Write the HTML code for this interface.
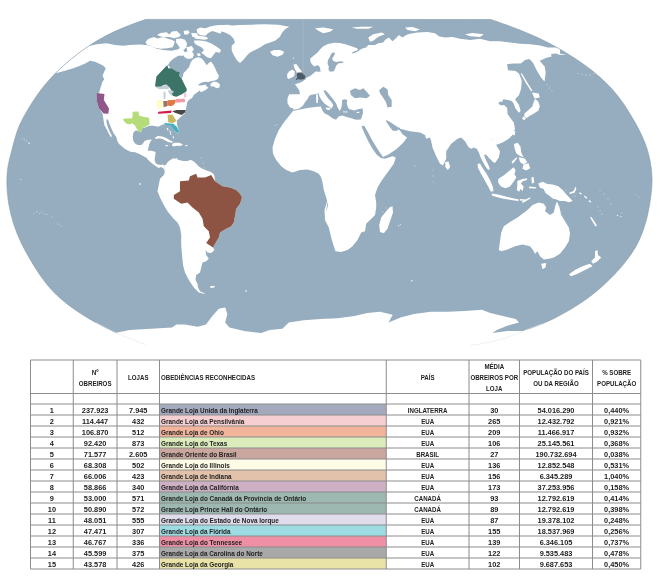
<!DOCTYPE html>
<html lang="pt"><head><meta charset="utf-8"><title>Mapa</title>
<style>html,body{margin:0;padding:0;background:#fff}svg{display:block}</style></head>
<body>
<svg width="660" height="584" viewBox="0 0 660 584">
<rect width="660" height="584" fill="#fff"/>
<defs><clipPath id="clip"><path d="M491.0 19.5 L493.4 20.4 L495.8 21.2 L498.3 22.1 L500.7 22.9 L503.1 23.8 L505.5 24.6 L507.9 25.5 L510.3 26.4 L512.7 27.3 L515.1 28.2 L517.5 29.1 L519.9 30.1 L522.3 31.0 L524.6 32.0 L527.0 33.0 L529.4 33.9 L531.7 35.0 L534.1 36.0 L536.4 37.0 L538.8 38.1 L541.1 39.2 L543.4 40.3 L545.7 41.5 L548.0 42.6 L550.2 43.8 L552.5 45.0 L554.7 46.2 L557.0 47.5 L559.2 48.8 L561.4 50.0 L563.6 51.3 L565.8 52.7 L568.0 54.0 L570.2 55.4 L572.4 56.7 L574.5 58.1 L576.7 59.5 L578.8 61.0 L580.9 62.4 L583.0 63.9 L585.1 65.4 L587.2 66.9 L589.2 68.4 L591.3 70.0 L593.3 71.6 L595.3 73.2 L597.2 74.9 L599.2 76.5 L601.1 78.3 L603.0 80.0 L604.8 81.8 L606.7 83.6 L608.5 85.4 L610.3 87.2 L612.0 89.1 L613.7 91.0 L615.4 93.0 L617.0 95.0 L618.6 97.0 L620.1 99.0 L621.6 101.1 L623.1 103.2 L624.6 105.3 L626.0 107.4 L627.4 109.6 L628.7 111.8 L630.1 114.0 L631.4 116.2 L632.7 118.4 L634.0 120.6 L635.3 122.8 L636.5 125.1 L637.7 127.3 L638.9 129.6 L640.1 131.9 L641.2 134.2 L642.3 136.5 L643.3 138.9 L644.3 141.2 L645.2 143.6 L646.1 146.1 L646.9 148.5 L647.6 150.9 L648.3 153.4 L649.0 155.9 L649.5 158.4 L650.1 160.9 L650.5 163.5 L650.9 166.0 L651.3 168.6 L651.6 171.1 L651.8 173.7 L651.9 176.2 L652.0 178.8 L652.0 181.4 L651.9 183.9 L651.8 186.5 L651.6 189.0 L651.4 191.6 L651.1 194.1 L650.8 196.7 L650.4 199.2 L650.0 201.8 L649.6 204.3 L649.2 206.8 L648.7 209.3 L648.2 211.9 L647.7 214.4 L647.1 216.9 L646.5 219.4 L645.8 221.8 L645.1 224.3 L644.3 226.8 L643.5 229.2 L642.7 231.6 L641.8 234.0 L640.8 236.4 L639.8 238.8 L638.7 241.1 L637.5 243.4 L636.3 245.6 L635.1 247.9 L633.7 250.1 L632.4 252.2 L630.9 254.4 L629.5 256.5 L627.9 258.5 L626.4 260.6 L624.8 262.6 L623.2 264.6 L621.5 266.6 L619.9 268.5 L618.1 270.4 L616.4 272.3 L614.7 274.2 L612.9 276.0 L611.1 277.8 L609.3 279.6 L607.4 281.4 L605.5 283.2 L603.7 284.9 L601.8 286.7 L599.8 288.4 L597.9 290.1 L595.9 291.7 L594.0 293.3 L592.0 294.9 L589.9 296.5 L587.9 298.0 L585.8 299.5 L583.7 301.0 L581.6 302.4 L579.4 303.8 L577.3 305.2 L575.1 306.6 L572.9 307.9 L570.7 309.2 L568.5 310.5 L566.3 311.8 L564.0 313.1 L561.8 314.3 L559.5 315.5 L557.2 316.7 L555.0 317.9 L552.7 319.0 L550.4 320.2 L548.0 321.2 L545.7 322.3 L543.3 323.3 L541.0 324.3 L538.6 325.2 L536.2 326.2 L533.8 327.1 L531.4 328.0 L529.0 328.9 L526.6 329.8 L524.2 330.8 L521.8 331.7 L519.5 332.6 L517.1 333.6 L514.7 334.5 L512.3 335.4 L509.9 336.3 L507.4 337.2 L505.0 338.0 L502.6 338.8 L500.1 339.6 L497.7 340.3 L495.2 340.9 L492.7 341.6 L490.2 342.1 L487.7 342.6 L485.2 343.1 L482.7 343.6 L480.2 344.0 L477.6 344.4 L475.1 344.8 L472.5 345.1 L470.0 345.5 L400.0 349.0 L250.0 349.0 L190.0 348.5 L145.6 344.6 L143.4 343.8 L141.3 343.0 L139.2 342.2 L137.0 341.4 L134.9 340.6 L132.7 339.7 L130.6 338.9 L128.4 338.1 L126.3 337.2 L124.2 336.3 L122.1 335.4 L120.0 334.5 L117.9 333.6 L115.8 332.7 L113.7 331.7 L111.6 330.7 L109.6 329.7 L107.5 328.7 L105.5 327.7 L103.4 326.6 L101.4 325.6 L99.4 324.5 L97.4 323.4 L95.3 322.3 L93.3 321.2 L91.4 320.0 L89.4 318.9 L87.4 317.7 L85.4 316.5 L83.5 315.3 L81.5 314.1 L79.6 312.8 L77.7 311.6 L75.8 310.3 L73.9 309.0 L72.0 307.6 L70.2 306.3 L68.3 304.9 L66.5 303.5 L64.7 302.1 L62.9 300.6 L61.2 299.1 L59.5 297.6 L57.8 296.1 L56.1 294.5 L54.5 292.9 L52.9 291.2 L51.3 289.5 L49.8 287.8 L48.3 286.1 L46.9 284.3 L45.4 282.5 L44.1 280.7 L42.7 278.8 L41.4 276.9 L40.0 275.1 L38.7 273.2 L37.5 271.2 L36.2 269.3 L35.0 267.4 L33.8 265.4 L32.5 263.5 L31.4 261.5 L30.2 259.5 L29.0 257.6 L27.9 255.6 L26.8 253.6 L25.7 251.6 L24.6 249.5 L23.5 247.5 L22.5 245.4 L21.5 243.4 L20.5 241.3 L19.6 239.2 L18.7 237.1 L17.8 235.0 L16.9 232.9 L16.1 230.7 L15.3 228.6 L14.5 226.4 L13.8 224.2 L13.1 222.0 L12.5 219.8 L11.8 217.6 L11.2 215.4 L10.7 213.2 L10.2 210.9 L9.7 208.7 L9.3 206.4 L8.8 204.2 L8.5 201.9 L8.1 199.6 L7.9 197.4 L7.6 195.1 L7.4 192.8 L7.2 190.5 L7.1 188.2 L7.0 185.9 L6.9 183.6 L6.9 181.3 L6.9 179.0 L7.0 176.7 L7.1 174.4 L7.3 172.2 L7.6 169.9 L7.9 167.6 L8.2 165.3 L8.7 163.1 L9.1 160.9 L9.7 158.6 L10.2 156.4 L10.8 154.2 L11.4 151.9 L12.0 149.7 L12.6 147.5 L13.1 145.3 L13.7 143.0 L14.3 140.8 L14.9 138.6 L15.6 136.4 L16.2 134.2 L17.0 132.0 L17.7 129.9 L18.5 127.7 L19.4 125.6 L20.3 123.5 L21.3 121.5 L22.4 119.4 L23.4 117.4 L24.5 115.4 L25.6 113.4 L26.8 111.4 L28.0 109.4 L29.2 107.4 L30.4 105.4 L31.6 103.5 L32.8 101.6 L34.1 99.7 L35.3 97.7 L36.6 95.9 L38.0 94.0 L39.3 92.1 L40.7 90.3 L42.1 88.5 L43.5 86.7 L44.9 84.9 L46.4 83.1 L47.9 81.4 L49.4 79.6 L51.0 77.9 L52.5 76.3 L54.1 74.6 L55.7 73.0 L57.4 71.4 L59.0 69.8 L60.7 68.2 L62.4 66.7 L64.1 65.1 L65.8 63.6 L67.6 62.1 L69.3 60.7 L71.1 59.2 L72.9 57.7 L74.7 56.3 L76.5 54.9 L78.3 53.5 L80.1 52.1 L82.0 50.8 L83.8 49.4 L85.7 48.1 L87.6 46.8 L89.5 45.5 L91.4 44.3 L93.4 43.0 L95.3 41.8 L97.3 40.6 L99.3 39.5 L101.3 38.3 L103.3 37.2 L105.3 36.1 L107.3 35.1 L109.4 34.0 L111.4 33.0 L113.5 32.0 L115.6 31.1 L117.7 30.1 L119.8 29.2 L121.9 28.3 L124.0 27.5 L126.1 26.6 L128.3 25.8 L130.4 24.9 L132.6 24.1 L134.7 23.3 L136.9 22.5 L139.0 21.7 L141.2 21.0 L143.3 20.2 L145.5 19.4Z"/></clipPath></defs>
<path d="M491.0 19.5 L493.4 20.4 L495.8 21.2 L498.3 22.1 L500.7 22.9 L503.1 23.8 L505.5 24.6 L507.9 25.5 L510.3 26.4 L512.7 27.3 L515.1 28.2 L517.5 29.1 L519.9 30.1 L522.3 31.0 L524.6 32.0 L527.0 33.0 L529.4 33.9 L531.7 35.0 L534.1 36.0 L536.4 37.0 L538.8 38.1 L541.1 39.2 L543.4 40.3 L545.7 41.5 L548.0 42.6 L550.2 43.8 L552.5 45.0 L554.7 46.2 L557.0 47.5 L559.2 48.8 L561.4 50.0 L563.6 51.3 L565.8 52.7 L568.0 54.0 L570.2 55.4 L572.4 56.7 L574.5 58.1 L576.7 59.5 L578.8 61.0 L580.9 62.4 L583.0 63.9 L585.1 65.4 L587.2 66.9 L589.2 68.4 L591.3 70.0 L593.3 71.6 L595.3 73.2 L597.2 74.9 L599.2 76.5 L601.1 78.3 L603.0 80.0 L604.8 81.8 L606.7 83.6 L608.5 85.4 L610.3 87.2 L612.0 89.1 L613.7 91.0 L615.4 93.0 L617.0 95.0 L618.6 97.0 L620.1 99.0 L621.6 101.1 L623.1 103.2 L624.6 105.3 L626.0 107.4 L627.4 109.6 L628.7 111.8 L630.1 114.0 L631.4 116.2 L632.7 118.4 L634.0 120.6 L635.3 122.8 L636.5 125.1 L637.7 127.3 L638.9 129.6 L640.1 131.9 L641.2 134.2 L642.3 136.5 L643.3 138.9 L644.3 141.2 L645.2 143.6 L646.1 146.1 L646.9 148.5 L647.6 150.9 L648.3 153.4 L649.0 155.9 L649.5 158.4 L650.1 160.9 L650.5 163.5 L650.9 166.0 L651.3 168.6 L651.6 171.1 L651.8 173.7 L651.9 176.2 L652.0 178.8 L652.0 181.4 L651.9 183.9 L651.8 186.5 L651.6 189.0 L651.4 191.6 L651.1 194.1 L650.8 196.7 L650.4 199.2 L650.0 201.8 L649.6 204.3 L649.2 206.8 L648.7 209.3 L648.2 211.9 L647.7 214.4 L647.1 216.9 L646.5 219.4 L645.8 221.8 L645.1 224.3 L644.3 226.8 L643.5 229.2 L642.7 231.6 L641.8 234.0 L640.8 236.4 L639.8 238.8 L638.7 241.1 L637.5 243.4 L636.3 245.6 L635.1 247.9 L633.7 250.1 L632.4 252.2 L630.9 254.4 L629.5 256.5 L627.9 258.5 L626.4 260.6 L624.8 262.6 L623.2 264.6 L621.5 266.6 L619.9 268.5 L618.1 270.4 L616.4 272.3 L614.7 274.2 L612.9 276.0 L611.1 277.8 L609.3 279.6 L607.4 281.4 L605.5 283.2 L603.7 284.9 L601.8 286.7 L599.8 288.4 L597.9 290.1 L595.9 291.7 L594.0 293.3 L592.0 294.9 L589.9 296.5 L587.9 298.0 L585.8 299.5 L583.7 301.0 L581.6 302.4 L579.4 303.8 L577.3 305.2 L575.1 306.6 L572.9 307.9 L570.7 309.2 L568.5 310.5 L566.3 311.8 L564.0 313.1 L561.8 314.3 L559.5 315.5 L557.2 316.7 L555.0 317.9 L552.7 319.0 L550.4 320.2 L548.0 321.2 L545.7 322.3 L543.3 323.3 L541.0 324.3 L538.6 325.2 L536.2 326.2 L533.8 327.1 L531.4 328.0 L529.0 328.9 L526.6 329.8 L524.2 330.8 L521.8 331.7 L519.5 332.6 L517.1 333.6 L514.7 334.5 L512.3 335.4 L509.9 336.3 L507.4 337.2 L505.0 338.0 L502.6 338.8 L500.1 339.6 L497.7 340.3 L495.2 340.9 L492.7 341.6 L490.2 342.1 L487.7 342.6 L485.2 343.1 L482.7 343.6 L480.2 344.0 L477.6 344.4 L475.1 344.8 L472.5 345.1 L470.0 345.5 L400.0 349.0 L250.0 349.0 L190.0 348.5 L145.6 344.6 L143.4 343.8 L141.3 343.0 L139.2 342.2 L137.0 341.4 L134.9 340.6 L132.7 339.7 L130.6 338.9 L128.4 338.1 L126.3 337.2 L124.2 336.3 L122.1 335.4 L120.0 334.5 L117.9 333.6 L115.8 332.7 L113.7 331.7 L111.6 330.7 L109.6 329.7 L107.5 328.7 L105.5 327.7 L103.4 326.6 L101.4 325.6 L99.4 324.5 L97.4 323.4 L95.3 322.3 L93.3 321.2 L91.4 320.0 L89.4 318.9 L87.4 317.7 L85.4 316.5 L83.5 315.3 L81.5 314.1 L79.6 312.8 L77.7 311.6 L75.8 310.3 L73.9 309.0 L72.0 307.6 L70.2 306.3 L68.3 304.9 L66.5 303.5 L64.7 302.1 L62.9 300.6 L61.2 299.1 L59.5 297.6 L57.8 296.1 L56.1 294.5 L54.5 292.9 L52.9 291.2 L51.3 289.5 L49.8 287.8 L48.3 286.1 L46.9 284.3 L45.4 282.5 L44.1 280.7 L42.7 278.8 L41.4 276.9 L40.0 275.1 L38.7 273.2 L37.5 271.2 L36.2 269.3 L35.0 267.4 L33.8 265.4 L32.5 263.5 L31.4 261.5 L30.2 259.5 L29.0 257.6 L27.9 255.6 L26.8 253.6 L25.7 251.6 L24.6 249.5 L23.5 247.5 L22.5 245.4 L21.5 243.4 L20.5 241.3 L19.6 239.2 L18.7 237.1 L17.8 235.0 L16.9 232.9 L16.1 230.7 L15.3 228.6 L14.5 226.4 L13.8 224.2 L13.1 222.0 L12.5 219.8 L11.8 217.6 L11.2 215.4 L10.7 213.2 L10.2 210.9 L9.7 208.7 L9.3 206.4 L8.8 204.2 L8.5 201.9 L8.1 199.6 L7.9 197.4 L7.6 195.1 L7.4 192.8 L7.2 190.5 L7.1 188.2 L7.0 185.9 L6.9 183.6 L6.9 181.3 L6.9 179.0 L7.0 176.7 L7.1 174.4 L7.3 172.2 L7.6 169.9 L7.9 167.6 L8.2 165.3 L8.7 163.1 L9.1 160.9 L9.7 158.6 L10.2 156.4 L10.8 154.2 L11.4 151.9 L12.0 149.7 L12.6 147.5 L13.1 145.3 L13.7 143.0 L14.3 140.8 L14.9 138.6 L15.6 136.4 L16.2 134.2 L17.0 132.0 L17.7 129.9 L18.5 127.7 L19.4 125.6 L20.3 123.5 L21.3 121.5 L22.4 119.4 L23.4 117.4 L24.5 115.4 L25.6 113.4 L26.8 111.4 L28.0 109.4 L29.2 107.4 L30.4 105.4 L31.6 103.5 L32.8 101.6 L34.1 99.7 L35.3 97.7 L36.6 95.9 L38.0 94.0 L39.3 92.1 L40.7 90.3 L42.1 88.5 L43.5 86.7 L44.9 84.9 L46.4 83.1 L47.9 81.4 L49.4 79.6 L51.0 77.9 L52.5 76.3 L54.1 74.6 L55.7 73.0 L57.4 71.4 L59.0 69.8 L60.7 68.2 L62.4 66.7 L64.1 65.1 L65.8 63.6 L67.6 62.1 L69.3 60.7 L71.1 59.2 L72.9 57.7 L74.7 56.3 L76.5 54.9 L78.3 53.5 L80.1 52.1 L82.0 50.8 L83.8 49.4 L85.7 48.1 L87.6 46.8 L89.5 45.5 L91.4 44.3 L93.4 43.0 L95.3 41.8 L97.3 40.6 L99.3 39.5 L101.3 38.3 L103.3 37.2 L105.3 36.1 L107.3 35.1 L109.4 34.0 L111.4 33.0 L113.5 32.0 L115.6 31.1 L117.7 30.1 L119.8 29.2 L121.9 28.3 L124.0 27.5 L126.1 26.6 L128.3 25.8 L130.4 24.9 L132.6 24.1 L134.7 23.3 L136.9 22.5 L139.0 21.7 L141.2 21.0 L143.3 20.2 L145.5 19.4Z" fill="#96adbf"/>
<g clip-path="url(#clip)">
<path d="M56.7 73.0 L50.0 71.7 L85.0 41.7 L90.0 45.8 L96.7 44.2 L106.7 43.3 L115.0 45.0 L123.3 45.8 L130.0 45.0 L140.0 44.5 L150.0 45.5 L140.0 45.5 L146.7 45.0 L151.7 46.2 L156.7 48.7 L163.3 50.0 L171.7 50.8 L178.3 49.2 L180.8 47.0 L183.3 50.0 L185.8 53.7 L183.3 55.8 L178.3 55.8 L173.3 58.7 L170.0 61.7 L168.0 65.0 L170.8 68.7 L177.5 72.5 L180.0 74.7 L179.4 72.4 L180.0 76.1 L181.8 78.5 L183.0 76.1 L183.6 73.0 L186.1 70.6 L189.1 67.0 L190.3 63.3 L192.1 60.3 L195.2 57.9 L198.8 57.3 L201.8 58.5 L204.2 61.5 L206.7 65.2 L208.5 63.3 L210.9 61.5 L213.3 64.5 L215.2 68.2 L217.0 72.4 L218.8 75.5 L218.2 78.5 L215.8 80.3 L212.1 80.9 L208.5 82.1 L204.8 81.8 L201.2 82.7 L197.6 85.2 L201.2 85.4 L205.5 84.5 L206.7 86.4 L208.5 87.8 L204.8 90.6 L200.6 92.2 L200.0 90.6 L196.4 93.0 L193.9 94.8 L192.1 97.9 L189.1 99.7 L187.3 102.1 L186.7 105.2 L186.1 108.2 L185.7 110.6 L184.8 113.6 L182.4 115.5 L180.0 117.5 L176.7 120.8 L177.5 126.7 L179.2 131.7 L177.8 133.7 L175.0 130.8 L171.7 126.3 L168.3 124.7 L163.3 124.2 L158.3 126.7 L153.3 125.8 L149.2 125.8 L145.0 127.5 L142.3 128.2 L140.9 132.3 L135.9 130.3 L133.6 132.3 L132.7 135.9 L133.2 140.5 L135.0 143.6 L137.7 145.0 L141.4 145.0 L143.2 143.2 L144.5 140.9 L147.3 140.0 L150.5 139.5 L152.1 140.0 L150.8 140.7 L149.2 144.4 L148.2 148.7 L147.7 150.8 L151.4 150.8 L155.1 151.8 L155.6 152.7 L155.1 156.1 L154.6 160.3 L155.6 163.0 L157.7 164.6 L160.9 165.1 L162.5 164.4 L164.6 165.6 L164.3 169.4 L162.5 167.8 L160.9 166.9 L158.8 168.0 L156.7 166.7 L153.5 164.6 L150.3 161.9 L147.1 158.7 L146.8 158.0 L143.2 155.9 L139.5 154.1 L135.0 152.3 L130.5 151.8 L125.9 149.5 L122.3 146.8 L119.1 144.1 L117.3 140.9 L116.4 137.3 L113.6 133.2 L111.4 128.6 L109.5 124.1 L108.2 120.0 L106.8 119.1 L106.4 121.8 L107.3 125.5 L108.6 129.1 L110.0 132.3 L111.8 135.5 L111.2 137.3 L110.5 136.8 L108.6 133.2 L106.8 129.5 L104.5 125.5 L103.6 120.5 L102.7 114.1 L99.2 108.3 L97.0 101.7 L97.0 93.7 L99.2 92.5 L100.8 86.7 L102.5 81.7 L104.2 79.2 L102.5 75.8 L104.2 71.7 L105.8 68.3 L103.3 65.8 L98.3 63.3 L95.0 61.7 L90.0 60.8 L85.8 63.3 L80.0 65.8 L73.3 68.3 L65.0 70.8Z" fill="#ffffff"/>
<path d="M145.5 41.9 L148.2 39.1 L153.6 37.1 L157.7 38.5 L163.2 37.1 L167.3 38.5 L171.4 39.8 L174.8 41.2 L174.1 43.9 L172.7 47.3 L167.3 48.3 L160.5 48.7 L155.0 47.7 L150.9 46.0 L146.8 44.6Z" fill="#ffffff"/>
<path d="M157.0 35.0 L160.5 33.0 L166.6 32.3 L169.3 34.4 L172.0 31.6 L176.8 31.0 L178.9 33.0 L180.9 35.0 L178.9 37.1 L174.1 38.2 L169.3 37.1 L164.5 37.1 L160.5 36.4Z" fill="#ffffff"/>
<path d="M183.6 31.0 L187.7 30.3 L189.8 32.3 L187.7 34.4 L184.3 34.4Z" fill="#ffffff"/>
<path d="M196.6 29.6 L200.0 27.5 L205.5 28.2 L210.9 26.2 L219.1 25.5 L227.3 24.8 L231.4 25.5 L231.4 31.0 L225.9 29.6 L221.8 31.0 L220.5 33.7 L216.4 32.3 L212.3 31.0 L208.2 33.0 L205.5 35.7 L200.0 35.0 L197.3 33.0Z" fill="#ffffff"/>
<path d="M194.5 35.7 L200.0 35.7 L206.8 37.1 L208.2 39.1 L204.1 39.8 L198.6 39.1 L194.5 38.5Z" fill="#ffffff"/>
<path d="M176.1 39.1 L180.9 38.5 L185.0 39.8 L187.0 43.2 L186.4 47.3 L183.6 50.0 L180.2 48.7 L178.2 45.3 L176.1 42.5Z" fill="#ffffff"/>
<path d="M193.9 40.5 L200.0 40.5 L205.5 41.2 L210.9 43.2 L216.4 46.6 L221.1 50.0 L219.8 52.8 L215.7 52.1 L213.6 54.8 L210.9 58.2 L207.5 57.5 L204.1 54.8 L201.4 52.8 L204.1 50.0 L201.4 47.3 L197.3 45.3 L194.5 43.2Z" fill="#ffffff"/>
<path d="M186.4 47.3 L191.8 46.0 L193.9 49.4 L191.8 52.1 L187.7 52.1Z" fill="#ffffff"/>
<path d="M183.4 52.8 L187.0 51.4 L192.5 52.1 L193.9 54.8 L192.5 58.2 L187.7 58.9 L184.3 56.9Z" fill="#ffffff"/>
<path d="M196.6 53.7 L200.0 53.2 L200.7 55.5 L198.0 56.2Z" fill="#ffffff"/>
<path d="M191.1 33.0 L197.3 33.3 L198.0 36.4 L192.5 37.1Z" fill="#ffffff"/>
<path d="M213.3 25.8 L220.0 25.0 L228.3 25.8 L240.0 25.0 L251.7 24.7 L265.0 24.2 L278.3 24.7 L289.2 26.7 L285.0 29.2 L281.7 33.3 L280.0 36.7 L275.0 40.8 L270.0 42.5 L265.0 44.2 L260.0 47.5 L255.0 50.0 L250.0 52.5 L246.7 55.8 L243.3 60.0 L240.0 63.0 L236.7 60.0 L234.2 55.8 L231.7 50.8 L231.7 45.8 L235.0 42.5 L233.3 38.3 L230.0 35.0 L225.0 32.5 L220.0 30.8 L218.3 29.2 L213.3 28.3Z" fill="#ffffff"/>
<path d="M270.0 51.7 L274.2 50.0 L280.0 50.0 L284.2 51.7 L282.5 54.7 L277.5 56.7 L272.5 55.3Z" fill="#ffffff"/>
<path d="M287.2 73.9 L289.5 71.3 L292.5 69.4 L294.4 71.3 L294.8 74.3 L293.6 76.6 L291.4 77.7 L288.3 78.9 L287.2 77.3Z" fill="#ffffff"/>
<path d="M293.6 64.5 L296.3 64.1 L298.2 66.4 L299.3 68.3 L301.2 70.5 L302.0 72.4 L303.5 74.3 L305.4 75.8 L305.4 77.7 L303.9 79.6 L300.5 79.8 L297.8 79.6 L295.2 80.4 L296.3 78.5 L297.4 77.0 L296.3 75.8 L297.0 73.6 L296.3 71.3 L294.8 69.0 L294.0 66.7Z" fill="#ffffff"/>
<path d="M302.8 19.0 L303.5 19.0 L303.5 72.4 L302.8 72.4Z" fill="#a4b8c8"/>
<path d="M297.8 72.4 L302.0 72.4 L303.5 74.3 L305.4 75.8 L305.4 77.7 L303.9 79.6 L300.5 79.8 L297.8 79.6 L295.2 80.4 L296.3 78.5 L297.4 77.0 L296.3 75.8 L297.0 73.6Z" fill="#4a5c6a"/>
<path d="M315.0 28.3 L323.3 27.5 L333.3 29.2 L330.0 31.7 L323.3 33.3 L318.3 30.8Z" fill="#ffffff"/>
<path d="M351.7 27.5 L360.0 26.7 L373.3 26.7 L368.3 28.7 L356.7 28.7Z" fill="#ffffff"/>
<path d="M368.3 37.5 L373.3 34.2 L381.7 32.5 L385.0 34.2 L378.3 36.7 L373.3 40.8 L370.0 41.7Z" fill="#ffffff"/>
<path d="M405.0 27.5 L412.5 27.0 L420.0 29.5 L415.0 31.2 L407.5 30.0Z" fill="#ffffff"/>
<path d="M465.0 34.2 L472.5 33.0 L483.8 34.2 L480.0 37.0 L470.0 36.2Z" fill="#ffffff"/>
<path d="M293.3 108.3 L290.0 107.5 L287.5 103.3 L287.5 98.3 L289.2 94.2 L295.0 94.2 L300.0 94.2 L299.2 90.0 L296.7 86.7 L295.0 84.2 L299.2 83.0 L301.7 82.0 L305.8 79.2 L306.1 77.9 L310.9 75.5 L314.5 72.4 L315.5 71.6 L320.6 71.8 L320.0 67.6 L318.2 65.2 L315.8 65.8 L314.5 66.4 L312.1 64.5 L310.3 61.5 L310.3 58.5 L313.3 56.1 L317.0 53.0 L320.0 49.4 L323.0 46.4 L327.9 43.9 L333.9 42.7 L340.0 43.1 L346.1 44.5 L352.1 46.4 L357.0 48.2 L358.2 50.0 L354.5 51.2 L352.1 52.4 L351.5 53.6 L354.5 53.0 L358.2 51.2 L360.6 49.4 L363.0 48.2 L366.1 47.6 L368.3 45.0 L375.0 45.0 L378.3 43.3 L383.3 42.5 L385.0 40.0 L388.8 37.5 L392.5 41.2 L396.2 38.0 L398.8 35.0 L402.5 37.5 L406.2 35.0 L410.0 33.8 L417.5 32.5 L427.5 32.0 L435.0 33.2 L438.8 36.2 L445.0 37.5 L452.5 37.0 L460.0 38.8 L470.0 40.0 L480.0 38.8 L490.0 41.2 L500.0 41.2 L510.0 42.5 L520.0 43.8 L530.0 44.2 L540.0 45.5 L547.5 47.5 L560.0 47.5 L560.0 53.8 L566.5 54.5 L560.0 55.0 L556.0 53.5 L551.0 54.0 L551.6 56.5 L546.5 57.8 L539.7 60.8 L544.8 66.8 L545.7 72.8 L544.5 81.4 L541.4 77.9 L537.1 71.1 L533.7 64.2 L532.8 62.5 L529.4 59.1 L525.0 60.0 L520.8 63.4 L514.0 63.4 L507.1 64.2 L508.0 70.2 L515.7 71.1 L519.1 73.7 L521.7 80.5 L521.2 88.2 L519.1 95.1 L515.7 98.5 L515.4 99.8 L519.0 104.9 L520.6 111.1 L519.0 112.7 L515.4 108.5 L513.4 102.9 L511.3 100.8 L506.2 99.8 L503.1 99.3 L502.1 101.9 L499.5 101.5 L498.5 104.0 L501.5 105.5 L504.1 104.9 L507.2 108.0 L507.5 113.8 L510.0 117.5 L513.8 122.5 L515.0 128.8 L512.5 135.0 L508.8 138.8 L502.5 142.5 L497.5 144.5 L493.0 145.0 L492.5 136.2 L492.5 140.0 L496.2 145.0 L500.0 151.2 L498.8 157.5 L495.0 163.0 L492.8 161.8 L489.0 158.0 L486.0 154.5 L484.0 155.0 L485.5 159.0 L488.2 164.5 L490.0 169.0 L488.2 170.0 L485.5 166.5 L482.8 161.8 L481.0 158.2 L479.0 153.0 L477.0 149.0 L473.8 147.5 L471.2 148.8 L468.8 147.5 L465.0 141.2 L461.2 137.5 L457.5 138.8 L451.2 143.8 L446.2 151.2 L446.2 158.8 L443.0 165.5 L440.0 163.8 L436.2 156.2 L432.5 147.5 L431.2 141.2 L430.0 137.5 L426.2 138.8 L425.0 135.0 L420.0 132.5 L410.0 131.2 L400.0 128.8 L400.0 128.0 L397.5 127.0 L393.8 124.5 L390.0 122.0 L386.2 120.0 L386.2 121.5 L388.8 125.5 L392.5 130.5 L396.2 131.0 L398.8 129.5 L400.5 131.2 L402.5 134.2 L407.0 137.5 L403.0 143.0 L396.2 149.2 L388.8 154.2 L383.0 157.0 L382.2 155.8 L379.5 152.0 L376.0 146.5 L372.2 140.2 L367.8 132.0 L364.0 125.2 L362.0 125.2 L358.8 122.0 L361.1 118.9 L361.8 116.7 L363.0 112.9 L362.6 108.6 L358.8 109.1 L354.2 110.6 L348.9 109.1 L347.4 106.1 L346.7 103.0 L347.4 100.0 L344.4 99.2 L342.1 100.0 L342.1 103.8 L341.4 107.6 L339.8 111.1 L337.6 107.6 L336.4 104.1 L334.2 100.8 L331.8 97.4 L328.5 93.5 L325.5 90.2 L323.5 90.5 L325.5 94.7 L328.2 98.5 L331.2 101.8 L333.3 105.0 L331.8 108.6 L328.2 106.2 L324.7 103.8 L321.5 100.0 L319.4 96.2 L318.6 93.2 L316.4 93.9 L312.6 94.4 L309.5 95.5 L307.3 99.2 L305.0 102.3 L302.7 106.1 L298.2 109.1 L292.9 109.8Z" fill="#ffffff"/>
<path d="M332.7 52.4 L335.2 53.0 L333.9 56.1 L332.1 58.5 L333.3 60.9 L336.4 62.1 L340.0 61.3 L343.4 61.8 L343.0 63.0 L338.8 63.3 L336.4 65.2 L335.2 68.2 L333.9 71.2 L330.3 71.8 L328.5 70.0 L328.8 66.4 L327.6 63.9 L327.9 60.3 L329.7 57.3 L330.9 54.2Z" fill="#96adbf"/>
<path d="M350.8 95.0 L350.0 90.8 L355.0 88.3 L360.0 90.0 L363.3 88.3 L366.7 91.7 L370.0 95.8 L366.7 98.3 L360.0 97.5 L355.0 98.3Z" fill="#96adbf"/>
<path d="M379.2 90.0 L383.3 86.7 L387.5 89.2 L388.3 95.0 L391.7 100.0 L391.7 106.7 L387.5 107.5 L385.8 101.7 L382.5 96.7 L380.0 93.3Z" fill="#96adbf"/>
<path d="M292.9 111.1 L299.7 109.4 L307.3 107.9 L314.8 107.1 L320.9 106.5 L322.4 110.6 L324.7 113.6 L328.5 115.2 L332.3 118.2 L336.1 119.7 L338.3 116.7 L342.1 115.6 L346.7 117.1 L351.2 118.2 L355.8 119.7 L361.1 119.4 L366.2 122.0 L365.0 125.5 L361.5 126.2 L365.0 134.5 L368.5 141.8 L372.2 148.2 L376.8 154.8 L381.0 158.0 L385.0 158.8 L392.5 156.2 L395.8 157.5 L393.8 163.8 L387.5 172.5 L381.2 181.2 L377.5 187.5 L375.0 195.0 L376.2 202.5 L376.2 208.8 L375.0 200.0 L376.2 207.5 L375.0 215.0 L370.0 220.0 L366.2 223.8 L365.0 231.2 L361.2 232.5 L357.5 240.0 L352.5 246.2 L347.5 250.0 L341.2 252.0 L335.5 251.2 L333.8 246.2 L331.2 237.5 L328.8 227.5 L325.0 220.0 L324.5 210.0 L327.5 200.0 L326.2 212.5 L328.0 205.0 L326.2 197.5 L323.8 190.0 L322.5 182.5 L321.2 177.5 L318.8 173.8 L313.8 171.2 L307.5 169.5 L300.0 170.0 L292.5 172.5 L286.2 170.0 L281.2 166.2 L276.2 160.0 L273.0 153.8 L272.5 147.5 L275.0 138.8 L278.8 130.0 L283.8 122.5 L288.8 116.2Z" fill="#ffffff"/>
<path d="M392.5 206.2 L393.0 212.5 L390.0 221.2 L387.5 228.8 L383.8 233.2 L380.0 232.0 L379.2 225.0 L381.2 217.5 L386.2 211.2 L390.0 207.0Z" fill="#ffffff"/>
<path d="M445.3 162.1 L448.5 161.4 L450.2 167.0 L447.8 170.1 L445.3 167.0Z" fill="#ffffff"/>
<path d="M480.0 163.6 L482.7 168.2 L486.4 173.6 L490.0 180.0 L492.7 186.4 L493.6 190.9 L490.9 191.8 L488.2 186.4 L484.5 180.0 L480.9 173.6 L478.0 168.0 L477.5 164.0Z" fill="#ffffff"/>
<path d="M491.8 193.6 L498.2 194.5 L505.5 196.4 L512.7 198.2 L519.1 199.5 L518.2 200.9 L510.9 200.0 L503.6 198.7 L496.4 196.9 L491.8 195.5Z" fill="#ffffff"/>
<path d="M520.0 199.0 L526.0 199.5 L526.0 201.0 L520.0 200.5Z" fill="#ffffff"/>
<path d="M498.2 179.1 L503.6 175.5 L509.1 170.9 L513.6 167.3 L515.5 170.0 L514.5 174.5 L516.4 177.3 L513.6 181.8 L510.0 186.4 L505.5 188.2 L500.9 186.4 L498.2 182.7Z" fill="#ffffff"/>
<path d="M517.3 180.9 L522.7 179.1 L527.3 178.2 L526.9 180.0 L522.7 181.3 L520.9 183.6 L523.6 186.4 L522.7 190.9 L520.4 189.1 L519.1 191.8 L516.9 190.0 L517.3 185.5Z" fill="#ffffff"/>
<path d="M514.0 144.0 L517.6 142.7 L520.5 146.4 L521.2 152.4 L523.6 157.3 L520.0 156.0 L516.4 153.6 L514.7 148.8Z" fill="#ffffff"/>
<path d="M518.8 157.3 L524.8 158.5 L527.3 162.1 L523.6 164.5 L520.0 162.1Z" fill="#ffffff"/>
<path d="M523.6 164.5 L528.5 163.3 L530.2 168.2 L526.1 170.6 L522.4 168.7Z" fill="#ffffff"/>
<path d="M511.5 162.1 L516.4 157.3 L517.1 158.5 L512.7 163.8Z" fill="#ffffff"/>
<path d="M512.2 130.6 L515.2 131.3 L514.7 135.5 L512.2 134.2Z" fill="#ffffff"/>
<path d="M494.5 139.6 L498.2 140.3 L497.7 143.5 L494.8 142.7Z" fill="#ffffff"/>
<path d="M532.0 92.5 L538.8 93.4 L539.7 97.6 L534.5 98.5Z" fill="#ffffff"/>
<path d="M535.0 98.8 L538.2 101.5 L539.8 106.0 L538.5 110.5 L534.0 113.5 L529.5 116.0 L526.5 118.0 L524.2 116.5 L524.5 113.5 L528.5 110.0 L532.3 106.5 L533.5 102.5Z" fill="#ffffff"/>
<path d="M523.4 116.5 L526.0 118.2 L524.2 120.2 L522.0 118.5Z" fill="#ffffff"/>
<path d="M520.5 73.2 L522.0 73.5 L527.0 82.0 L532.5 90.8 L531.0 91.0 L525.5 82.5Z" fill="#ffffff"/>
<path d="M164.3 169.4 L164.6 165.6 L166.2 164.6 L167.8 161.9 L170.5 159.8 L173.7 158.2 L175.8 158.7 L176.8 157.7 L177.9 159.8 L180.0 160.3 L183.2 160.9 L187.5 160.9 L190.6 159.8 L193.8 161.4 L196.0 163.5 L199.1 166.7 L202.3 168.8 L206.6 170.4 L210.8 172.0 L213.5 174.1 L214.5 176.3 L215.0 181.2 L222.5 186.2 L230.0 187.5 L236.2 190.0 L240.0 193.8 L242.0 197.5 L240.0 203.8 L236.2 208.8 L235.0 216.2 L233.8 222.5 L231.2 226.2 L226.2 228.8 L220.0 232.5 L218.8 237.5 L215.0 243.8 L213.0 247.5 L214.5 250.0 L211.2 253.0 L207.5 252.5 L205.5 250.0 L206.2 255.0 L208.8 258.8 L206.2 261.2 L202.5 262.5 L201.2 267.5 L200.0 272.5 L196.2 275.0 L195.5 280.0 L197.5 283.8 L198.0 287.5 L200.0 291.2 L203.8 293.0 L205.5 294.2 L198.8 292.5 L193.8 287.5 L188.8 280.0 L185.0 272.5 L183.0 265.0 L182.0 255.0 L181.2 245.0 L181.2 235.0 L180.0 227.5 L177.5 222.5 L172.5 217.5 L167.5 211.2 L163.8 205.0 L160.0 197.5 L157.5 191.2 L158.8 185.0 L160.0 178.8 L163.8 175.0 L164.6 173.1Z" fill="#ffffff"/>
<path d="M180.0 181.2 L188.8 180.5 L190.0 176.2 L196.2 173.8 L197.5 177.5 L205.0 177.5 L211.2 175.0 L215.0 181.2 L222.5 186.2 L230.0 187.5 L236.2 190.0 L240.0 193.8 L242.0 197.5 L240.0 203.8 L236.2 208.8 L235.0 216.2 L233.8 222.5 L231.2 226.2 L226.2 228.8 L220.0 232.5 L218.8 237.5 L215.0 243.8 L213.0 247.5 L206.2 243.0 L210.0 237.5 L208.8 231.2 L203.8 226.2 L202.5 218.8 L198.8 212.5 L192.5 207.5 L187.5 202.5 L181.2 203.8 L177.5 201.2 L173.8 198.8 L173.8 195.0 L180.0 191.2 L180.0 186.2Z" fill="#8e5443"/>
<path d="M210.0 286.2 L214.5 285.8 L214.5 287.5 L210.5 288.0Z" fill="#ffffff"/>
<path d="M498.8 250.0 L500.0 241.2 L501.2 232.5 L503.8 226.2 L511.2 221.2 L517.5 217.5 L522.5 213.8 L527.5 210.0 L532.5 205.0 L538.8 202.5 L543.8 203.8 L546.2 207.5 L545.0 211.2 L550.0 215.0 L553.8 212.5 L555.5 205.0 L557.0 201.5 L559.5 207.5 L561.2 215.0 L565.0 221.2 L568.8 227.5 L570.0 233.8 L568.8 241.2 L565.0 247.5 L560.0 253.8 L553.8 257.5 L548.8 258.8 L543.8 259.5 L540.0 256.2 L537.5 251.2 L535.0 253.8 L533.0 250.0 L530.0 246.2 L522.5 244.5 L515.0 246.2 L507.5 249.5 L501.2 251.2Z" fill="#ffffff"/>
<path d="M541.2 263.8 L546.2 263.0 L545.5 267.5 L542.5 269.2Z" fill="#ffffff"/>
<path d="M595.0 251.2 L597.5 250.0 L598.0 255.0 L601.2 257.5 L597.5 261.2 L593.0 263.8 L591.2 261.2 L595.0 257.5Z" fill="#ffffff"/>
<path d="M590.0 263.8 L592.5 266.2 L585.0 270.0 L577.5 273.8 L571.2 276.2 L568.8 274.5 L575.0 270.0 L582.5 266.2Z" fill="#ffffff"/>
<path d="M538.2 183.6 L542.7 181.8 L547.3 184.0 L552.7 184.5 L558.2 186.3 L562.7 189.9 L566.4 194.5 L570.0 198.2 L572.7 200.9 L569.1 202.3 L564.5 201.0 L560.0 201.0 L556.4 199.5 L552.7 198.5 L549.0 195.5 L545.5 193.0 L543.6 189.0 L540.0 187.8Z" fill="#ffffff"/>
<path d="M569.1 192.7 L573.6 190.9 L575.5 186.4 L576.4 189.1 L574.5 192.7 L570.0 194.0Z" fill="#ffffff"/>
<path d="M590.0 217.5 L591.5 217.0 L597.0 225.5 L595.5 226.5Z" fill="#ffffff"/>
<path d="M155.5 87.3 L160.9 86.5 L166.4 84.7 L169.5 87.3 L168.2 89.3 L163.6 88.9 L159.1 89.3Z" fill="#c3d0da"/>
<path d="M163.5 91.8 L165.5 91.4 L165.6 96.4 L165.0 99.5 L163.6 99.1Z" fill="#c3d0da"/>
<path d="M168.2 90.0 L171.4 90.5 L173.2 91.1 L173.8 93.6 L172.7 95.9 L170.5 95.0 L168.6 92.7Z" fill="#c3d0da"/>
<path d="M155.0 86.4 L156.4 76.4 L167.3 65.0 L168.2 68.2 L171.8 68.6 L176.4 71.4 L179.5 72.3 L179.5 75.9 L181.4 78.2 L184.5 84.5 L186.8 89.1 L186.4 91.4 L181.4 94.5 L176.4 96.8 L173.2 95.9 L171.8 93.6 L173.6 92.3 L173.2 90.9 L171.4 90.5 L169.5 87.3 L166.4 84.5 L163.6 85.0 L160.9 86.4 L157.3 86.8Z" fill="#3d7468"/>
<path d="M156.6 100.5 L159.0 99.6 L161.5 99.8 L162.7 102.7 L162.5 107.0 L160.5 108.8 L158.3 108.6 L156.8 106.0Z" fill="#fdfbc8"/>
<path d="M163.2 100.9 L167.7 100.9 L167.7 105.9 L163.6 107.3Z" fill="#9b7468"/>
<path d="M167.6 100.3 L175.8 99.8 L175.3 102.9 L173.0 105.4 L170.5 106.3 L167.9 105.4Z" fill="#e07840"/>
<path d="M175.9 99.0 L184.5 98.8 L185.2 102.0 L176.2 102.7Z" fill="#f09aa8"/>
<path d="M183.5 93.0 L186.2 92.7 L186.4 97.0 L184.0 97.5Z" fill="#f0c8d4"/>
<path d="M158.3 111.7 L171.7 110.5 L171.0 113.0 L158.0 113.7Z" fill="#d81848"/>
<path d="M172.0 111.3 L176.7 110.0 L185.8 110.0 L185.0 112.5 L181.7 115.0 L179.2 114.2 L175.0 112.7Z" fill="#484848"/>
<path d="M167.5 114.7 L172.5 114.7 L176.3 120.8 L173.3 123.0 L168.3 122.5Z" fill="#c8b860"/>
<path d="M164.2 123.0 L173.3 123.7 L176.7 126.7 L179.2 131.7 L177.5 133.3 L174.2 130.0 L170.8 125.8 L165.0 124.7Z" fill="#40b0c0"/>
<path d="M122.7 119.5 L125.0 118.6 L132.3 118.2 L132.7 111.8 L138.6 111.4 L138.9 115.5 L143.2 116.8 L149.1 117.7 L149.5 124.5 L145.9 126.4 L142.3 128.2 L140.9 132.3 L138.6 131.8 L136.4 128.2 L135.0 125.5 L132.3 123.2 L129.1 124.5 L125.9 123.2Z" fill="#b4dc78"/>
<path d="M96.8 93.0 L104.5 94.0 L103.8 100.0 L109.0 108.5 L108.3 113.8 L103.5 113.5 L99.0 108.3 L97.0 101.7Z" fill="#905888"/>
<path d="M154.6 138.0 L157.7 135.9 L162.5 136.5 L166.2 138.0 L169.9 140.2 L173.1 141.8 L172.1 142.8 L168.9 142.3 L165.7 140.7 L162.5 138.9 L158.8 138.3 L156.7 139.1Z" fill="#ffffff"/>
<path d="M172.1 143.9 L174.2 142.8 L179.0 142.8 L182.2 143.9 L182.7 144.9 L180.0 146.0 L176.8 145.7 L173.7 146.5 L172.1 145.5Z" fill="#ffffff"/>
<path d="M165.2 145.3 L167.8 144.9 L168.4 146.0 L165.7 146.3Z" fill="#ffffff"/>
<path d="M185.1 145.3 L187.5 145.1 L187.5 146.1 L185.3 146.2Z" fill="#ffffff"/>
<path d="M166.5 128.5 L167.8 128.0 L168.6 130.1 L167.5 130.6Z" fill="#ffffff"/>
<path d="M169.2 130.6 L170.3 131.1 L171.5 134.9 L170.7 135.1Z" fill="#ffffff"/>
<path d="M172.8 135.9 L173.9 136.5 L173.7 138.6 L172.8 138.3Z" fill="#ffffff"/>
<path d="M213.3 81.8 L217.0 82.1 L220.0 84.5 L219.4 87.6 L216.4 88.2 L213.9 86.4 L210.9 86.4 L210.3 83.9Z" fill="#ffffff"/>
<path d="M316.1 94.4 L317.6 94.1 L318.2 97.7 L317.9 103.0 L316.4 103.0 L316.1 98.5Z" fill="#ffffff"/>
<path d="M325.5 107.6 L330.8 108.0 L329.2 110.2 L326.2 109.2Z" fill="#ffffff"/>
<path d="M342.9 111.4 L347.4 111.5 L347.4 112.4 L342.9 112.3Z" fill="#ffffff"/>
<path d="M356.5 112.1 L359.5 111.8 L359.1 113.0 L356.8 113.0Z" fill="#ffffff"/>
<path d="M579.6 192.2 L581.8 193.6 L581.1 194.7 L579.1 193.3Z" fill="#ffffff"/>
<path d="M584.5 195.5 L587.3 197.6 L586.5 198.7 L584.0 196.5Z" fill="#ffffff"/>
<path d="M589.1 200.0 L591.3 201.8 L590.5 202.7 L588.5 200.9Z" fill="#ffffff"/>
<path d="M531.5 177.3 L533.6 176.9 L534.2 182.7 L531.8 183.6Z" fill="#ffffff"/>
<path d="M529.1 186.4 L536.4 187.3 L535.5 188.5 L529.1 188.2Z" fill="#ffffff"/>
<path d="M521.8 201.8 L530.0 197.3 L530.5 198.5 L522.7 203.0Z" fill="#ffffff"/>
<path d="M22.0 138.8 L22.5 138.3 L23.0 138.8 L22.5 139.3Z" fill="#ffffff"/>
<path d="M24.0 139.8 L24.5 139.3 L25.0 139.8 L24.5 140.3Z" fill="#ffffff"/>
<path d="M25.9 141.0 L26.5 140.4 L27.1 141.0 L26.5 141.6Z" fill="#ffffff"/>
<path d="M28.1 143.2 L29.0 142.3 L29.9 143.2 L29.0 144.1Z" fill="#ffffff"/>
<path d="M139.0 184.0 L140.0 183.0 L141.0 184.0 L140.0 185.0Z" fill="#ffffff"/>
<path d="M20.1 179.5 L20.7 178.9 L21.3 179.5 L20.7 180.1Z" fill="#ffffff"/>
<path d="M33.5 213.0 L34.0 212.5 L34.5 213.0 L34.0 213.5Z" fill="#ffffff"/>
<path d="M36.4 211.5 L37.0 210.9 L37.6 211.5 L37.0 212.1Z" fill="#ffffff"/>
<path d="M39.0 213.5 L39.5 213.0 L40.0 213.5 L39.5 214.0Z" fill="#ffffff"/>
<path d="M41.4 212.0 L42.0 211.4 L42.6 212.0 L42.0 212.6Z" fill="#ffffff"/>
<path d="M44.0 214.0 L44.5 213.5 L45.0 214.0 L44.5 214.5Z" fill="#ffffff"/>
<path d="M46.5 214.5 L47.0 214.0 L47.5 214.5 L47.0 215.0Z" fill="#ffffff"/>
<path d="M51.5 217.0 L52.0 216.5 L52.5 217.0 L52.0 217.5Z" fill="#ffffff"/>
<path d="M57.5 224.0 L58.0 223.5 L58.5 224.0 L58.0 224.5Z" fill="#ffffff"/>
<path d="M60.5 226.0 L61.0 225.5 L61.5 226.0 L61.0 226.5Z" fill="#ffffff"/>
<path d="M245.1 291.0 L246.0 290.1 L246.9 291.0 L246.0 291.9Z" fill="#ffffff"/>
<path d="M410.9 280.8 L411.8 279.9 L412.7 280.8 L411.8 281.7Z" fill="#ffffff"/>
<path d="M398.1 225.8 L398.8 225.1 L399.5 225.8 L398.8 226.5Z" fill="#ffffff"/>
<path d="M399.9 224.5 L400.5 223.9 L401.1 224.5 L400.5 225.1Z" fill="#ffffff"/>
<path d="M292.8 58.2 L293.5 57.5 L294.2 58.2 L293.5 58.9Z" fill="#ffffff"/>
<path d="M616.7 215.5 L617.5 214.7 L618.3 215.5 L617.5 216.3Z" fill="#ffffff"/>
<path d="M620.3 216.5 L621.0 215.8 L621.7 216.5 L621.0 217.2Z" fill="#ffffff"/>
<path d="M621.5 213.0 L622.0 212.5 L622.5 213.0 L622.0 213.5Z" fill="#ffffff"/>
<path d="M635.5 195.0 L636.0 194.5 L636.5 195.0 L636.0 195.5Z" fill="#ffffff"/>
<path d="M638.5 197.0 L639.0 196.5 L639.5 197.0 L639.0 197.5Z" fill="#ffffff"/>
<path d="M597.5 207.0 L598.0 206.5 L598.5 207.0 L598.0 207.5Z" fill="#ffffff"/>
<path d="M599.4 211.0 L600.0 210.4 L600.6 211.0 L600.0 211.6Z" fill="#ffffff"/>
<path d="M601.4 214.0 L602.0 213.4 L602.6 214.0 L602.0 214.6Z" fill="#ffffff"/>
<path d="M599.5 190.0 L600.0 189.5 L600.5 190.0 L600.0 190.5Z" fill="#ffffff"/>
<path d="M603.5 194.0 L604.0 193.5 L604.5 194.0 L604.0 194.5Z" fill="#ffffff"/>
<path d="M607.5 199.0 L608.0 198.5 L608.5 199.0 L608.0 199.5Z" fill="#ffffff"/>
<path d="M610.5 204.0 L611.0 203.5 L611.5 204.0 L611.0 204.5Z" fill="#ffffff"/>
<path d="M565.5 190.0 L566.0 189.5 L566.5 190.0 L566.0 190.5Z" fill="#ffffff"/>
<path d="M574.5 196.0 L575.0 195.5 L575.5 196.0 L575.0 196.5Z" fill="#ffffff"/>
<path d="M432.5 170.0 L433.0 169.5 L433.5 170.0 L433.0 170.5Z" fill="#ffffff"/>
<path d="M432.5 176.0 L433.0 175.5 L433.5 176.0 L433.0 176.5Z" fill="#ffffff"/>
<path d="M433.0 182.0 L433.5 181.5 L434.0 182.0 L433.5 182.5Z" fill="#ffffff"/>
<path d="M385.5 208.0 L386.0 207.5 L386.5 208.0 L386.0 208.5Z" fill="#ffffff"/>
<path d="M382.5 212.0 L383.0 211.5 L383.5 212.0 L383.0 212.5Z" fill="#ffffff"/>
<path d="M414.4 166.0 L415.0 165.4 L415.6 166.0 L415.0 166.6Z" fill="#ffffff"/>
<path d="M200.5 158.0 L201.0 157.5 L201.5 158.0 L201.0 158.5Z" fill="#ffffff"/>
<path d="M202.5 163.0 L203.0 162.5 L203.5 163.0 L203.0 163.5Z" fill="#ffffff"/>
<path d="M203.5 168.0 L204.0 167.5 L204.5 168.0 L204.0 168.5Z" fill="#ffffff"/>
<path d="M201.5 173.0 L202.0 172.5 L202.5 173.0 L202.0 173.5Z" fill="#ffffff"/>
<path d="M326.4 221.0 L327.0 220.4 L327.6 221.0 L327.0 221.6Z" fill="#ffffff"/>
<path d="M274.0 125.5 L274.5 125.0 L275.0 125.5 L274.5 126.0Z" fill="#ffffff"/>
<path d="M276.5 124.5 L277.0 124.0 L277.5 124.5 L277.0 125.0Z" fill="#ffffff"/>
<path d="M577.5 73.5 L578.0 73.0 L578.5 73.5 L578.0 74.0Z" fill="#ffffff"/>
<path d="M581.5 74.5 L582.0 74.0 L582.5 74.5 L582.0 75.0Z" fill="#ffffff"/>
<path d="M585.4 75.0 L586.0 74.4 L586.6 75.0 L586.0 75.6Z" fill="#ffffff"/>
<path d="M589.5 75.0 L590.0 74.5 L590.5 75.0 L590.0 75.5Z" fill="#ffffff"/>
<path d="M593.4 73.5 L594.0 72.9 L594.6 73.5 L594.0 74.1Z" fill="#ffffff"/>
<path d="M546.5 85.0 L547.0 84.5 L547.5 85.0 L547.0 85.5Z" fill="#ffffff"/>
<path d="M549.0 88.0 L549.5 87.5 L550.0 88.0 L549.5 88.5Z" fill="#ffffff"/>
<path d="M551.5 91.0 L552.0 90.5 L552.5 91.0 L552.0 91.5Z" fill="#ffffff"/>
</g>
<path d="M100.0 333.0 L114.8 333.0 L129.7 330.0 L150.9 328.8 L172.0 327.5 L176.4 324.5 L184.8 324.5 L197.6 326.7 L206.0 324.5 L212.4 316.0 L218.8 308.8 L225.2 307.6 L227.3 314.0 L225.2 322.4 L229.4 327.5 L244.3 331.0 L261.2 333.0 L269.7 330.0 L282.4 328.8 L288.8 322.4 L303.6 320.3 L320.6 319.0 L337.6 318.2 L354.5 316.0 L367.3 313.0 L380.0 311.8 L392.7 314.8 L388.5 322.4 L401.2 317.3 L414.0 314.0 L431.0 311.8 L447.9 311.8 L464.8 311.0 L481.8 309.7 L490.3 313.0 L503.0 316.0 L515.8 319.0 L519.0 322.4 L507.3 325.8 L496.7 330.0 L492.4 333.0 L507.3 331.0 L524.2 331.0 L530.6 330.0 L545.0 329.0 L545.0 360.0 L100.0 360.0Z" fill="#fff"/>
<path d="M116.5 333.0 L114.6 332.1 L112.7 331.1 L110.7 330.2 L108.8 329.2 L106.9 328.3 L105.0 327.3 L103.1 326.4 L101.2 325.4 L99.3 324.4 L97.4 323.4 L95.5 322.4 L93.7 321.4 L91.8 320.3 L90.0 319.2 L88.1 318.2 L86.3 317.1 L84.5 316.0 L82.6 314.8 L80.8 313.7 L79.1 312.5 L77.3 311.3 L75.5 310.1 L73.8 308.9 L72.0 307.6 L70.3 306.4 L68.6 305.1 L66.9 303.8 L65.2 302.4 L63.5 301.1 L61.9 299.7 L60.3 298.3 L58.7 296.9 L57.1 295.4 L55.6 293.9 L54.1 292.4 L52.6 290.9 L51.1 289.3 L49.7 287.7 L48.3 286.1 L47.0 284.5 L45.7 282.8 L44.4 281.1 L43.1 279.4 L41.8 277.6 L40.6 275.9 L39.4 274.1 L38.2 272.3 L37.0 270.5 L35.9 268.7 L34.7 266.9 L33.6 265.1 L32.4 263.3 L31.3 261.5 L30.2 259.6 L29.2 257.8 L28.1 255.9 L27.1 254.1 L26.0 252.2 L25.0 250.3 L24.0 248.4 L23.1 246.5 L22.1 244.6 L21.2 242.7 L20.3 240.7 L19.4 238.8 L18.6 236.8 L17.7 234.9 L16.9 232.9 L16.2 230.9 L15.4 228.9 L14.7 226.9 L14.0 224.8 L13.3 222.8 L12.7 220.8 L12.1 218.7 L11.6 216.6 L11.0 214.6 L10.5 212.5 L10.1 210.4 L9.6 208.3 L9.2 206.2 L8.8 204.1 L8.5 202.0 L8.2 199.9 L7.9 197.8 L7.7 195.6 L7.4 193.5 L7.3 191.4 L7.1 189.2 L7.0 187.1 L6.9 185.0 L6.9 182.8 L6.9 180.7 L6.9 178.6 L7.0 176.4 L7.1 174.3 L7.3 172.1 L7.5 170.0 L7.8 167.9 L8.1 165.8 L8.5 163.7 L9.0 161.6 L9.4 159.5 L9.9 157.5 L10.5 155.4 L11.0 153.3 L11.6 151.2 L12.1 149.2 L12.7 147.1 L13.2 145.0 L13.8 143.0 L14.3 140.9 L14.9 138.8 L15.5 136.8 L16.1 134.7 L16.7 132.7 L17.4 130.7 L18.2 128.7 L19.0 126.7 L19.8 124.7 L20.7 122.8 L21.6 120.9 L22.6 119.0 L23.6 117.1 L24.6 115.2 L25.7 113.3 L26.7 111.5 L27.8 109.6 L28.9 107.8 L30.0 106.0 L31.2 104.1 L32.3 102.3 L33.5 100.6 L34.7 98.8 L35.9 97.0 L37.1 95.2 L38.3 93.5 L39.6 91.8 L40.8 90.1 L42.1 88.4 L43.5 86.7 L44.8 85.0 L46.2 83.4 L47.6 81.8 L49.0 80.2 L50.4 78.6 L51.8 77.0 L53.3 75.4 L54.8 73.9 L56.3 72.4 L57.8 70.9 L59.4 69.4 L61.0 68.0 L62.5 66.5 L64.1 65.1 L65.7 63.7 L67.4 62.3 L69.0 60.9 L70.6 59.6 L72.3 58.2 L74.0 56.9 L75.6 55.5 L77.3 54.2 L79.0 52.9 L80.7 51.7 L82.5 50.4 L84.2 49.2 L85.9 47.9 L87.7 46.7 L89.5 45.5 L91.3 44.4 L93.1 43.2 L94.9 42.1 L96.7 41.0 L98.6 39.9 L100.4 38.8 L102.3 37.8 L104.2 36.7 L106.0 35.7 L107.9 34.8 L109.9 33.8 L111.8 32.9 L113.7 31.9 L115.6 31.1 L117.6 30.2 L119.6 29.3 L121.5 28.5 L123.5 27.7 L125.5 26.9 L127.5 26.1 L129.4 25.3 L131.4 24.6 L133.4 23.8 L135.4 23.1 L137.5 22.3 L139.5 21.6 L141.5 20.9 L143.5 20.1 L145.5 19.4 L491.0 19.5 L493.1 20.2 L495.3 21.0 L497.4 21.7 L499.5 22.5 L501.6 23.3 L503.7 24.0 L505.9 24.8 L508.0 25.5 L510.1 26.3 L512.2 27.1 L514.3 27.9 L516.4 28.7 L518.5 29.5 L520.6 30.3 L522.7 31.2 L524.8 32.0 L526.9 32.9 L529.0 33.8 L531.0 34.7 L533.1 35.6 L535.1 36.5 L537.2 37.4 L539.2 38.4 L541.3 39.3 L543.3 40.3 L545.3 41.3 L547.3 42.3 L549.3 43.3 L551.3 44.4 L553.3 45.5 L555.3 46.5 L557.3 47.6 L559.2 48.8 L561.2 49.9 L563.1 51.0 L565.0 52.2 L567.0 53.4 L568.9 54.5 L570.8 55.7 L572.7 56.9 L574.6 58.2 L576.5 59.4 L578.4 60.7 L580.2 61.9 L582.1 63.2 L583.9 64.5 L585.7 65.8 L587.6 67.2 L589.4 68.5 L591.1 69.9 L592.9 71.3 L594.7 72.7 L596.4 74.2 L598.1 75.6 L599.8 77.1 L601.5 78.6 L603.2 80.2 L604.8 81.7 L606.4 83.3 L608.0 84.9 L609.6 86.5 L611.1 88.2 L612.6 89.8 L614.1 91.5 L615.6 93.2 L617.0 95.0 L618.4 96.8 L619.7 98.5 L621.1 100.4 L622.4 102.2 L623.7 104.0 L624.9 105.9 L626.2 107.8 L627.4 109.7 L628.6 111.6 L629.8 113.5 L631.0 115.4 L632.1 117.4 L633.2 119.3 L634.4 121.3 L635.5 123.3 L636.6 125.2 L637.7 127.2 L638.7 129.2 L639.7 131.2 L640.7 133.2 L641.7 135.3 L642.6 137.3 L643.5 139.4 L644.4 141.5 L645.2 143.6 L646.0 145.7 L646.7 147.8 L647.4 150.0 L648.0 152.2 L648.6 154.3 L649.1 156.5 L649.6 158.7 L650.1 161.0 L650.5 163.2 L650.8 165.4 L651.2 167.6 L651.4 169.9 L651.6 172.1 L651.8 174.4 L651.9 176.6 L652.0 178.9 L652.0 181.1 L652.0 183.4 L651.9 185.6 L651.7 187.9 L651.5 190.1 L651.3 192.4 L651.0 194.6 L650.7 196.8 L650.4 199.1 L650.1 201.3 L649.8 203.5 L649.4 205.8 L649.0 208.0 L648.6 210.2 L648.1 212.4 L647.6 214.6 L647.1 216.8 L646.6 219.0 L646.0 221.2 L645.4 223.3 L644.7 225.5 L644.0 227.7 L643.3 229.8 L642.6 231.9 L641.7 234.0 L640.9 236.1 L640.0 238.2 L639.1 240.2 L638.1 242.3 L637.1 244.3 L636.0 246.3 L634.9 248.2 L633.7 250.1 L632.5 252.0 L631.2 253.9 L629.9 255.8 L628.6 257.6 L627.3 259.4 L625.9 261.2 L624.5 263.0 L623.1 264.7 L621.6 266.5 L620.2 268.2 L618.7 269.8 L617.1 271.5 L615.6 273.2 L614.1 274.8 L612.5 276.4 L610.9 278.0 L609.3 279.6 L607.7 281.2 L606.0 282.7 L604.4 284.3 L602.7 285.8 L601.1 287.3 L599.4 288.8 L597.7 290.3 L595.9 291.7 L594.2 293.1 L592.4 294.5 L590.6 295.9 L588.9 297.3 L587.0 298.6 L585.2 299.9 L583.4 301.2 L581.5 302.5 L579.6 303.7 L577.7 305.0 L575.8 306.2 L573.9 307.3 L572.0 308.5 L570.0 309.7 L568.1 310.8 L566.1 311.9 L564.1 313.0 L562.2 314.1 L560.2 315.2 L558.2 316.2 L556.2 317.3 L554.2 318.3 L552.2 319.3 L550.1 320.2 L548.1 321.2 L546.0 322.1 L544.0 323.0 L541.9 323.9 L539.8 324.8 L537.7 325.6 L535.6 326.4 L533.5 327.2 L531.4 328.0 L529.3 328.8" fill="none" stroke="#8499aa" stroke-width="0.6"/><path d="M145.6 344.6 L142.9 343.6 L140.2 342.6 L137.6 341.6 L134.9 340.6 L132.2 339.6 L129.6 338.5 L126.9 337.5 L124.3 336.4 L121.7 335.3 L119.1 334.2 L116.5 333.0 L113.9 331.8 L111.3 330.5 L108.8 329.3 L106.2 328.0 L103.7 326.7 L101.2 325.4 L98.6 324.0 L96.1 322.7" fill="none" stroke="#e3e7ea" stroke-width="0.6"/><path d="M541.7 324.0 L538.0 325.4 L534.3 326.8 L530.6 328.3 L527.0 329.7 L523.3 331.2 L519.6 332.7 L515.9 334.1 L512.2 335.5 L508.5 336.8 L504.7 338.1 L501.0 339.3 L497.2 340.4 L493.4 341.4 L489.5 342.3 L485.6 343.0 L481.8 343.7 L477.8 344.3 L473.9 344.9 L470.0 345.5" fill="none" stroke="#e3e7ea" stroke-width="0.6"/>
<rect x="159.50" y="404.00" width="226.75" height="11" fill="#a4a9bd"/>
<rect x="159.50" y="415.00" width="226.75" height="11" fill="#f6cfd2"/>
<rect x="159.50" y="426.00" width="226.75" height="11" fill="#f2b49b"/>
<rect x="159.50" y="437.00" width="226.75" height="11" fill="#dcebbb"/>
<rect x="159.50" y="448.00" width="226.75" height="11" fill="#c9a79f"/>
<rect x="159.50" y="459.00" width="226.75" height="11" fill="#fefce6"/>
<rect x="159.50" y="470.00" width="226.75" height="11" fill="#e3c2ab"/>
<rect x="159.50" y="481.00" width="226.75" height="11" fill="#cdb0c3"/>
<rect x="159.50" y="492.00" width="226.75" height="11" fill="#9db8b0"/>
<rect x="159.50" y="503.00" width="226.75" height="11" fill="#9db8b0"/>
<rect x="159.50" y="514.00" width="226.75" height="11" fill="#e0dcec"/>
<rect x="159.50" y="525.00" width="226.75" height="11" fill="#9cdce2"/>
<rect x="159.50" y="536.00" width="226.75" height="11" fill="#ee8fa6"/>
<rect x="159.50" y="547.00" width="226.75" height="11" fill="#a9a9a9"/>
<rect x="159.50" y="558.00" width="226.75" height="11" fill="#eae3a8"/>
<line x1="30.50" x2="640.75" y1="360.00" y2="360.00" stroke="#8c8c8c" stroke-width="1"/>
<line x1="30.50" x2="640.75" y1="393.50" y2="393.50" stroke="#8c8c8c" stroke-width="1"/>
<line x1="30.50" x2="640.75" y1="404.00" y2="404.00" stroke="#8c8c8c" stroke-width="1"/>
<line x1="30.50" x2="640.75" y1="415.00" y2="415.00" stroke="#8c8c8c" stroke-width="1"/>
<line x1="30.50" x2="640.75" y1="426.00" y2="426.00" stroke="#8c8c8c" stroke-width="1"/>
<line x1="30.50" x2="640.75" y1="437.00" y2="437.00" stroke="#8c8c8c" stroke-width="1"/>
<line x1="30.50" x2="640.75" y1="448.00" y2="448.00" stroke="#8c8c8c" stroke-width="1"/>
<line x1="30.50" x2="640.75" y1="459.00" y2="459.00" stroke="#8c8c8c" stroke-width="1"/>
<line x1="30.50" x2="640.75" y1="470.00" y2="470.00" stroke="#8c8c8c" stroke-width="1"/>
<line x1="30.50" x2="640.75" y1="481.00" y2="481.00" stroke="#8c8c8c" stroke-width="1"/>
<line x1="30.50" x2="640.75" y1="492.00" y2="492.00" stroke="#8c8c8c" stroke-width="1"/>
<line x1="30.50" x2="640.75" y1="503.00" y2="503.00" stroke="#8c8c8c" stroke-width="1"/>
<line x1="30.50" x2="640.75" y1="514.00" y2="514.00" stroke="#8c8c8c" stroke-width="1"/>
<line x1="30.50" x2="640.75" y1="525.00" y2="525.00" stroke="#8c8c8c" stroke-width="1"/>
<line x1="30.50" x2="640.75" y1="536.00" y2="536.00" stroke="#8c8c8c" stroke-width="1"/>
<line x1="30.50" x2="640.75" y1="547.00" y2="547.00" stroke="#8c8c8c" stroke-width="1"/>
<line x1="30.50" x2="640.75" y1="558.00" y2="558.00" stroke="#8c8c8c" stroke-width="1"/>
<line x1="30.50" x2="640.75" y1="569.00" y2="569.00" stroke="#8c8c8c" stroke-width="1"/>
<line x1="30.50" x2="30.50" y1="360.00" y2="569.00" stroke="#8c8c8c" stroke-width="1"/>
<line x1="73.25" x2="73.25" y1="360.00" y2="569.00" stroke="#8c8c8c" stroke-width="1"/>
<line x1="117.00" x2="117.00" y1="360.00" y2="569.00" stroke="#8c8c8c" stroke-width="1"/>
<line x1="159.50" x2="159.50" y1="360.00" y2="569.00" stroke="#8c8c8c" stroke-width="1"/>
<line x1="386.25" x2="386.25" y1="360.00" y2="569.00" stroke="#8c8c8c" stroke-width="1"/>
<line x1="469.00" x2="469.00" y1="360.00" y2="569.00" stroke="#8c8c8c" stroke-width="1"/>
<line x1="519.50" x2="519.50" y1="360.00" y2="569.00" stroke="#8c8c8c" stroke-width="1"/>
<line x1="592.50" x2="592.50" y1="360.00" y2="569.00" stroke="#8c8c8c" stroke-width="1"/>
<line x1="640.75" x2="640.75" y1="360.00" y2="569.00" stroke="#8c8c8c" stroke-width="1"/>
<g font-family="'Liberation Sans', Arial, sans-serif" fill="#222" font-weight="bold">
<text transform="translate(95.12 374.50) scale(0.810 1)" text-anchor="middle" font-size="7.90">Nº</text>
<text transform="translate(95.12 385.90) scale(0.777 1)" text-anchor="middle" font-size="7.90">OBREIROS</text>
<text transform="translate(138.25 379.50) scale(0.777 1)" text-anchor="middle" font-size="7.90">LOJAS</text>
<text transform="translate(161.00 379.50) scale(0.777 1)" text-anchor="start" font-size="7.90">OBEDIÊNCIAS RECONHECIDAS</text>
<text transform="translate(427.62 379.50) scale(0.777 1)" text-anchor="middle" font-size="7.90">PAÍS</text>
<text transform="translate(494.25 369.00) scale(0.777 1)" text-anchor="middle" font-size="7.90">MÉDIA</text>
<text transform="translate(494.25 380.00) scale(0.777 1)" text-anchor="middle" font-size="7.90">OBREIROS POR</text>
<text transform="translate(494.25 391.00) scale(0.777 1)" text-anchor="middle" font-size="7.90">LOJA</text>
<text transform="translate(556.00 374.50) scale(0.777 1)" text-anchor="middle" font-size="7.90">POPULAÇÃO DO PAÍS</text>
<text transform="translate(556.00 385.50) scale(0.777 1)" text-anchor="middle" font-size="7.90">OU DA REGIÃO</text>
<text transform="translate(616.62 374.50) scale(0.777 1)" text-anchor="middle" font-size="7.90">% SOBRE</text>
<text transform="translate(616.62 385.50) scale(0.777 1)" text-anchor="middle" font-size="7.90">POPULAÇÃO</text>
<text transform="translate(51.88 412.90) scale(0.935 1)" text-anchor="middle" font-size="7.90">1</text>
<text transform="translate(95.12 412.90) scale(0.935 1)" text-anchor="middle" font-size="7.90">237.923</text>
<text transform="translate(138.25 412.90) scale(0.935 1)" text-anchor="middle" font-size="7.90">7.945</text>
<text transform="translate(161.00 412.90) scale(0.810 1)" text-anchor="start" font-size="7.90">Grande Loja Unida da Inglaterra</text>
<text transform="translate(427.62 412.90) scale(0.777 1)" text-anchor="middle" font-size="7.90">INGLATERRA</text>
<text transform="translate(494.25 412.90) scale(0.935 1)" text-anchor="middle" font-size="7.90">30</text>
<text transform="translate(556.00 412.90) scale(0.935 1)" text-anchor="middle" font-size="7.90">54.016.290</text>
<text transform="translate(616.62 412.90) scale(0.935 1)" text-anchor="middle" font-size="7.90">0,440%</text>
<text transform="translate(51.88 423.90) scale(0.935 1)" text-anchor="middle" font-size="7.90">2</text>
<text transform="translate(95.12 423.90) scale(0.935 1)" text-anchor="middle" font-size="7.90">114.447</text>
<text transform="translate(138.25 423.90) scale(0.935 1)" text-anchor="middle" font-size="7.90">432</text>
<text transform="translate(161.00 423.90) scale(0.810 1)" text-anchor="start" font-size="7.90">Grande Loja da Pensilvânia</text>
<text transform="translate(427.62 423.90) scale(0.777 1)" text-anchor="middle" font-size="7.90">EUA</text>
<text transform="translate(494.25 423.90) scale(0.935 1)" text-anchor="middle" font-size="7.90">265</text>
<text transform="translate(556.00 423.90) scale(0.935 1)" text-anchor="middle" font-size="7.90">12.432.792</text>
<text transform="translate(616.62 423.90) scale(0.935 1)" text-anchor="middle" font-size="7.90">0,921%</text>
<text transform="translate(51.88 434.90) scale(0.935 1)" text-anchor="middle" font-size="7.90">3</text>
<text transform="translate(95.12 434.90) scale(0.935 1)" text-anchor="middle" font-size="7.90">106.870</text>
<text transform="translate(138.25 434.90) scale(0.935 1)" text-anchor="middle" font-size="7.90">512</text>
<text transform="translate(161.00 434.90) scale(0.810 1)" text-anchor="start" font-size="7.90">Grande Loja de Ohio</text>
<text transform="translate(427.62 434.90) scale(0.777 1)" text-anchor="middle" font-size="7.90">EUA</text>
<text transform="translate(494.25 434.90) scale(0.935 1)" text-anchor="middle" font-size="7.90">209</text>
<text transform="translate(556.00 434.90) scale(0.935 1)" text-anchor="middle" font-size="7.90">11.466.917</text>
<text transform="translate(616.62 434.90) scale(0.935 1)" text-anchor="middle" font-size="7.90">0,932%</text>
<text transform="translate(51.88 445.90) scale(0.935 1)" text-anchor="middle" font-size="7.90">4</text>
<text transform="translate(95.12 445.90) scale(0.935 1)" text-anchor="middle" font-size="7.90">92.420</text>
<text transform="translate(138.25 445.90) scale(0.935 1)" text-anchor="middle" font-size="7.90">873</text>
<text transform="translate(161.00 445.90) scale(0.810 1)" text-anchor="start" font-size="7.90">Grande Loja do Texas</text>
<text transform="translate(427.62 445.90) scale(0.777 1)" text-anchor="middle" font-size="7.90">EUA</text>
<text transform="translate(494.25 445.90) scale(0.935 1)" text-anchor="middle" font-size="7.90">106</text>
<text transform="translate(556.00 445.90) scale(0.935 1)" text-anchor="middle" font-size="7.90">25.145.561</text>
<text transform="translate(616.62 445.90) scale(0.935 1)" text-anchor="middle" font-size="7.90">0,368%</text>
<text transform="translate(51.88 456.90) scale(0.935 1)" text-anchor="middle" font-size="7.90">5</text>
<text transform="translate(95.12 456.90) scale(0.935 1)" text-anchor="middle" font-size="7.90">71.577</text>
<text transform="translate(138.25 456.90) scale(0.935 1)" text-anchor="middle" font-size="7.90">2.605</text>
<text transform="translate(161.00 456.90) scale(0.810 1)" text-anchor="start" font-size="7.90">Grande Oriente do Brasil</text>
<text transform="translate(427.62 456.90) scale(0.777 1)" text-anchor="middle" font-size="7.90">BRASIL</text>
<text transform="translate(494.25 456.90) scale(0.935 1)" text-anchor="middle" font-size="7.90">27</text>
<text transform="translate(556.00 456.90) scale(0.935 1)" text-anchor="middle" font-size="7.90">190.732.694</text>
<text transform="translate(616.62 456.90) scale(0.935 1)" text-anchor="middle" font-size="7.90">0,038%</text>
<text transform="translate(51.88 467.90) scale(0.935 1)" text-anchor="middle" font-size="7.90">6</text>
<text transform="translate(95.12 467.90) scale(0.935 1)" text-anchor="middle" font-size="7.90">68.308</text>
<text transform="translate(138.25 467.90) scale(0.935 1)" text-anchor="middle" font-size="7.90">502</text>
<text transform="translate(161.00 467.90) scale(0.810 1)" text-anchor="start" font-size="7.90">Grande Loja do Illinois</text>
<text transform="translate(427.62 467.90) scale(0.777 1)" text-anchor="middle" font-size="7.90">EUA</text>
<text transform="translate(494.25 467.90) scale(0.935 1)" text-anchor="middle" font-size="7.90">136</text>
<text transform="translate(556.00 467.90) scale(0.935 1)" text-anchor="middle" font-size="7.90">12.852.548</text>
<text transform="translate(616.62 467.90) scale(0.935 1)" text-anchor="middle" font-size="7.90">0,531%</text>
<text transform="translate(51.88 478.90) scale(0.935 1)" text-anchor="middle" font-size="7.90">7</text>
<text transform="translate(95.12 478.90) scale(0.935 1)" text-anchor="middle" font-size="7.90">66.006</text>
<text transform="translate(138.25 478.90) scale(0.935 1)" text-anchor="middle" font-size="7.90">423</text>
<text transform="translate(161.00 478.90) scale(0.810 1)" text-anchor="start" font-size="7.90">Grande Loja de Indiana</text>
<text transform="translate(427.62 478.90) scale(0.777 1)" text-anchor="middle" font-size="7.90">EUA</text>
<text transform="translate(494.25 478.90) scale(0.935 1)" text-anchor="middle" font-size="7.90">156</text>
<text transform="translate(556.00 478.90) scale(0.935 1)" text-anchor="middle" font-size="7.90">6.345.289</text>
<text transform="translate(616.62 478.90) scale(0.935 1)" text-anchor="middle" font-size="7.90">1,040%</text>
<text transform="translate(51.88 489.90) scale(0.935 1)" text-anchor="middle" font-size="7.90">8</text>
<text transform="translate(95.12 489.90) scale(0.935 1)" text-anchor="middle" font-size="7.90">58.866</text>
<text transform="translate(138.25 489.90) scale(0.935 1)" text-anchor="middle" font-size="7.90">340</text>
<text transform="translate(161.00 489.90) scale(0.810 1)" text-anchor="start" font-size="7.90">Grande Loja da Califórnia</text>
<text transform="translate(427.62 489.90) scale(0.777 1)" text-anchor="middle" font-size="7.90">EUA</text>
<text transform="translate(494.25 489.90) scale(0.935 1)" text-anchor="middle" font-size="7.90">173</text>
<text transform="translate(556.00 489.90) scale(0.935 1)" text-anchor="middle" font-size="7.90">37.253.956</text>
<text transform="translate(616.62 489.90) scale(0.935 1)" text-anchor="middle" font-size="7.90">0,158%</text>
<text transform="translate(51.88 500.90) scale(0.935 1)" text-anchor="middle" font-size="7.90">9</text>
<text transform="translate(95.12 500.90) scale(0.935 1)" text-anchor="middle" font-size="7.90">53.000</text>
<text transform="translate(138.25 500.90) scale(0.935 1)" text-anchor="middle" font-size="7.90">571</text>
<text transform="translate(161.00 500.90) scale(0.810 1)" text-anchor="start" font-size="7.90">Grande Loja do Canadá da Província de Ontário</text>
<text transform="translate(427.62 500.90) scale(0.777 1)" text-anchor="middle" font-size="7.90">CANADÁ</text>
<text transform="translate(494.25 500.90) scale(0.935 1)" text-anchor="middle" font-size="7.90">93</text>
<text transform="translate(556.00 500.90) scale(0.935 1)" text-anchor="middle" font-size="7.90">12.792.619</text>
<text transform="translate(616.62 500.90) scale(0.935 1)" text-anchor="middle" font-size="7.90">0,414%</text>
<text transform="translate(51.88 511.90) scale(0.935 1)" text-anchor="middle" font-size="7.90">10</text>
<text transform="translate(95.12 511.90) scale(0.935 1)" text-anchor="middle" font-size="7.90">50.890</text>
<text transform="translate(138.25 511.90) scale(0.935 1)" text-anchor="middle" font-size="7.90">572</text>
<text transform="translate(161.00 511.90) scale(0.810 1)" text-anchor="start" font-size="7.90">Grande Loja Prince Hall do Ontário</text>
<text transform="translate(427.62 511.90) scale(0.777 1)" text-anchor="middle" font-size="7.90">CANADÁ</text>
<text transform="translate(494.25 511.90) scale(0.935 1)" text-anchor="middle" font-size="7.90">89</text>
<text transform="translate(556.00 511.90) scale(0.935 1)" text-anchor="middle" font-size="7.90">12.792.619</text>
<text transform="translate(616.62 511.90) scale(0.935 1)" text-anchor="middle" font-size="7.90">0,398%</text>
<text transform="translate(51.88 522.90) scale(0.935 1)" text-anchor="middle" font-size="7.90">11</text>
<text transform="translate(95.12 522.90) scale(0.935 1)" text-anchor="middle" font-size="7.90">48.051</text>
<text transform="translate(138.25 522.90) scale(0.935 1)" text-anchor="middle" font-size="7.90">555</text>
<text transform="translate(161.00 522.90) scale(0.810 1)" text-anchor="start" font-size="7.90">Grande Loja do Estado de Nova Iorque</text>
<text transform="translate(427.62 522.90) scale(0.777 1)" text-anchor="middle" font-size="7.90">EUA</text>
<text transform="translate(494.25 522.90) scale(0.935 1)" text-anchor="middle" font-size="7.90">87</text>
<text transform="translate(556.00 522.90) scale(0.935 1)" text-anchor="middle" font-size="7.90">19.378.102</text>
<text transform="translate(616.62 522.90) scale(0.935 1)" text-anchor="middle" font-size="7.90">0,248%</text>
<text transform="translate(51.88 533.90) scale(0.935 1)" text-anchor="middle" font-size="7.90">12</text>
<text transform="translate(95.12 533.90) scale(0.935 1)" text-anchor="middle" font-size="7.90">47.471</text>
<text transform="translate(138.25 533.90) scale(0.935 1)" text-anchor="middle" font-size="7.90">307</text>
<text transform="translate(161.00 533.90) scale(0.810 1)" text-anchor="start" font-size="7.90">Grande Loja da Flórida</text>
<text transform="translate(427.62 533.90) scale(0.777 1)" text-anchor="middle" font-size="7.90">EUA</text>
<text transform="translate(494.25 533.90) scale(0.935 1)" text-anchor="middle" font-size="7.90">155</text>
<text transform="translate(556.00 533.90) scale(0.935 1)" text-anchor="middle" font-size="7.90">18.537.969</text>
<text transform="translate(616.62 533.90) scale(0.935 1)" text-anchor="middle" font-size="7.90">0,256%</text>
<text transform="translate(51.88 544.90) scale(0.935 1)" text-anchor="middle" font-size="7.90">13</text>
<text transform="translate(95.12 544.90) scale(0.935 1)" text-anchor="middle" font-size="7.90">46.767</text>
<text transform="translate(138.25 544.90) scale(0.935 1)" text-anchor="middle" font-size="7.90">336</text>
<text transform="translate(161.00 544.90) scale(0.810 1)" text-anchor="start" font-size="7.90">Grande Loja do Tennessee</text>
<text transform="translate(427.62 544.90) scale(0.777 1)" text-anchor="middle" font-size="7.90">EUA</text>
<text transform="translate(494.25 544.90) scale(0.935 1)" text-anchor="middle" font-size="7.90">139</text>
<text transform="translate(556.00 544.90) scale(0.935 1)" text-anchor="middle" font-size="7.90">6.346.105</text>
<text transform="translate(616.62 544.90) scale(0.935 1)" text-anchor="middle" font-size="7.90">0,737%</text>
<text transform="translate(51.88 555.90) scale(0.935 1)" text-anchor="middle" font-size="7.90">14</text>
<text transform="translate(95.12 555.90) scale(0.935 1)" text-anchor="middle" font-size="7.90">45.599</text>
<text transform="translate(138.25 555.90) scale(0.935 1)" text-anchor="middle" font-size="7.90">375</text>
<text transform="translate(161.00 555.90) scale(0.810 1)" text-anchor="start" font-size="7.90">Grande Loja da Carolina do Norte</text>
<text transform="translate(427.62 555.90) scale(0.777 1)" text-anchor="middle" font-size="7.90">EUA</text>
<text transform="translate(494.25 555.90) scale(0.935 1)" text-anchor="middle" font-size="7.90">122</text>
<text transform="translate(556.00 555.90) scale(0.935 1)" text-anchor="middle" font-size="7.90">9.535.483</text>
<text transform="translate(616.62 555.90) scale(0.935 1)" text-anchor="middle" font-size="7.90">0,478%</text>
<text transform="translate(51.88 566.90) scale(0.935 1)" text-anchor="middle" font-size="7.90">15</text>
<text transform="translate(95.12 566.90) scale(0.935 1)" text-anchor="middle" font-size="7.90">43.578</text>
<text transform="translate(138.25 566.90) scale(0.935 1)" text-anchor="middle" font-size="7.90">426</text>
<text transform="translate(161.00 566.90) scale(0.810 1)" text-anchor="start" font-size="7.90">Grande Loja da Georgia</text>
<text transform="translate(427.62 566.90) scale(0.777 1)" text-anchor="middle" font-size="7.90">EUA</text>
<text transform="translate(494.25 566.90) scale(0.935 1)" text-anchor="middle" font-size="7.90">102</text>
<text transform="translate(556.00 566.90) scale(0.935 1)" text-anchor="middle" font-size="7.90">9.687.653</text>
<text transform="translate(616.62 566.90) scale(0.935 1)" text-anchor="middle" font-size="7.90">0,450%</text>
</g>
</svg>
</body></html>
